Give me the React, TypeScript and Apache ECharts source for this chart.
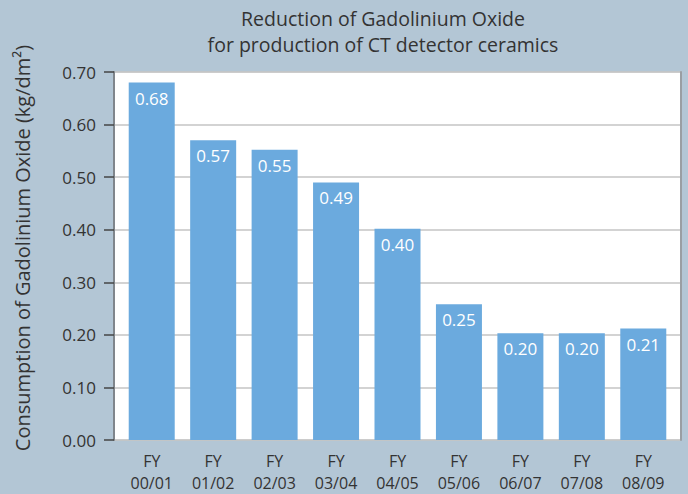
import React, { useEffect, useRef } from "react";
import * as echarts from "echarts";

const categories = ["FY\n00/01", "FY\n01/02", "FY\n02/03", "FY\n03/04", "FY\n04/05", "FY\n05/06", "FY\n06/07", "FY\n07/08", "FY\n08/09"];
const values = [0.68, 0.57, 0.552, 0.49, 0.402, 0.258, 0.203, 0.203, 0.212];
const valueLabels = ["0.68", "0.57", "0.55", "0.49", "0.40", "0.25", "0.20", "0.20", "0.21"];
const titleLine1 = "Reduction of Gadolinium Oxide";
const titleLine2 = "for production of CT detector ceramics";
const yName = "Consumption of Gadolinium Oxide (kg/dm²)";

const FONT = "'Open Sans', 'Noto Sans', sans-serif";

export default function App() {
  const ref = useRef<HTMLDivElement>(null);
  useEffect(() => {
    if (!ref.current) return;
    const chart = echarts.init(ref.current, null, { renderer: "svg" });
    chart.setOption({
      animation: false,
      backgroundColor: "#b3c6d5",
      title: {
        text: titleLine1,
        subtext: titleLine2,
        left: 383,
        top: 5,
        padding: 0,
        itemGap: 0,
        textAlign: "center",
        textStyle: { fontFamily: FONT, fontSize: 19.5, fontWeight: "normal", color: "#333", lineHeight: 26 },
        subtextStyle: { fontFamily: FONT, fontSize: 19.5, fontWeight: "normal", color: "#333", lineHeight: 26 },
      },
      graphic: [
        {
          type: "text",
          x: 22,
          y: 248,
          rotation: Math.PI / 2,
          style: {
            text: yName,
            fontFamily: FONT,
            fontSize: 20,
            fill: "#333",
            textAlign: "center",
            textVerticalAlign: "middle",
          },
        },
      ],
      grid: [
        { left: 114, right: 7, top: 72, bottom: 54, outerBoundsMode: "none", show: true, backgroundColor: "#fff", borderColor: "#c4c4c4", borderWidth: 1 },
        { left: 121, right: 14, top: 72, bottom: 54, outerBoundsMode: "none" },
      ],
      xAxis: [
        { gridIndex: 0, type: "value", min: 0, max: 1, show: false },
        {
          gridIndex: 1,
          type: "category",
          data: categories,
          axisLine: { show: false },
          axisTick: { show: false },
          axisLabel: { color: "#333", fontFamily: FONT, fontSize: 16, lineHeight: 22, margin: 10 },
        },
      ],
      yAxis: [
        {
          gridIndex: 0,
          type: "value",
          min: 0,
          max: 0.7,
          interval: 0.1,
          axisLine: { show: true, lineStyle: { color: "#80868c", width: 2 } },
          axisTick: { show: true, length: 10, lineStyle: { color: "#444", width: 1.5 } },
          axisLabel: { color: "#333", fontFamily: FONT, fontSize: 17, margin: 18, formatter: (v: number) => v.toFixed(2) },
          splitLine: { show: true, lineStyle: { color: "#c4c4c4", width: 1.5 } },
        },
        {
          gridIndex: 0,
          type: "value",
          position: "right",
          min: 0,
          max: 0.7,
          interval: 0.1,
          axisLine: { show: true, lineStyle: { color: "#9a9ea3", width: 2 } },
          axisTick: { show: false },
          axisLabel: { show: false },
          splitLine: { show: false },
        },
        { gridIndex: 1, type: "value", min: 0, max: 0.7, interval: 0.1, show: false },
      ],
      series: [
        {
          type: "bar",
          xAxisIndex: 1,
          yAxisIndex: 2,
          data: values,
          barWidth: 46,
          itemStyle: { color: "#6baade" },
          label: {
            show: true,
            position: "insideTop",
            distance: 7,
            color: "#fff",
            fontFamily: FONT,
            fontSize: 17,
            formatter: (p: any) => valueLabels[p.dataIndex],
          },
        },
        {
          type: "line",
          xAxisIndex: 0,
          yAxisIndex: 0,
          data: [],
        },
      ],
    });
    return () => chart.dispose();
  }, []);
  return <div ref={ref} style={{ position: "absolute", left: 0, top: 0, width: 688, height: 494 }} />;
}
